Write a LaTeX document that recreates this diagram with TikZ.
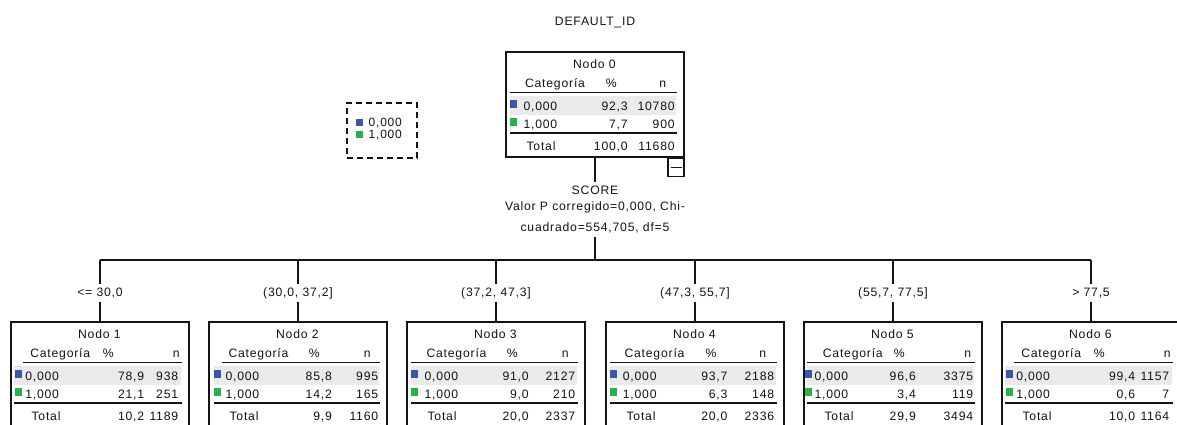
\documentclass[tikz,border=0pt]{standalone}
\usepackage{fontspec}
\setmainfont{Liberation Sans}[LetterSpace=6.5]
\definecolor{catblue}{RGB}{62,86,170}
\definecolor{catgreen}{RGB}{40,178,74}
\definecolor{rowgrey}{RGB}{234,234,234}
\definecolor{ink}{RGB}{20,20,20}
% layout: square, label, Categoria, %-head centre, n-head centre, %-values right, n-values right, upper rule start, shade start
\newcommand\lay[9]{\def\Lsq{#1}\def\Llab{#2}\def\Lcat{#3}\def\Lpc{#4}\def\Lnc{#5}\def\Lpv{#6}\def\Lnv{#7}\def\Lul{#8}\def\Lsh{#9}}
% table node: id, centre x, top y, p0, n0, p1, n1, total p, total n
\newcommand\tbl[9]{%
  \node[tbox] (n#1) at (#2,#3+52.5) {};
  \begin{scope}[shift={(n#1.north west)}]
    \fill[rowgrey] (\Lsh,45) rectangle (171,64);
    \draw[rule] (\Lul,41) -- (172,41);
    \draw[rule] (\Lsh,81.5) -- (172,81.5);
    \fill[catblue] (\Lsq,49) rectangle ++(7,8);
    \fill[catgreen] (\Lsq,67) rectangle ++(7,8);
    \node[txt,anchor=base] (n#1-t) at (89,17) {Nodo #1};
    \node[txt,anchor=base west] (n#1-hc) at (\Lcat,36.5) {Categoría};
    \node[txt,anchor=base] (n#1-hp) at (\Lpc,36.5) {\%};
    \node[txt,anchor=base] (n#1-hn) at (\Lnc,36.5) {n};
    \node[txt,anchor=base west] (n#1-c0) at (\Llab,59.5) {0,000};
    \node[txt,anchor=base east] (n#1-p0) at (\Lpv,59.5) {#4};
    \node[txt,anchor=base east] (n#1-v0) at (\Lnv,59.5) {#5};
    \node[txt,anchor=base west] (n#1-c1) at (\Llab,77.5) {1,000};
    \node[txt,anchor=base east] (n#1-p1) at (\Lpv,77.5) {#6};
    \node[txt,anchor=base east] (n#1-v1) at (\Lnv,77.5) {#7};
    \node[txt,anchor=base west] (n#1-ct) at (21,99) {Total};
    \node[txt,anchor=base east] (n#1-pt) at (\Lpv,99) {#8};
    \node[txt,anchor=base east] (n#1-vt) at (\Lnv,99) {#9};
  \end{scope}}
\begin{document}
\begin{tikzpicture}[x=1pt,y=-1pt,
  txt/.style={inner sep=0pt,text=ink,font=\fontsize{12.2}{15}\selectfont},
  tbox/.style={draw=ink,line width=1.3pt,minimum width=178pt,minimum height=105pt,inner sep=0pt},
  rule/.style={draw=ink,line width=1.5pt},
  conn/.style={draw=ink,line width=1.2pt},
  lbl/.style={txt,text height=9.3pt,text depth=2.7pt,inner ysep=3pt,inner xsep=1pt},
  minusbox/.style={draw=ink,line width=1.2pt,minimum width=16pt,minimum height=18pt,inner sep=0pt},
  legbox/.style={draw=ink,line width=1.2pt,dash pattern=on 6pt off 4pt,minimum width=70pt,minimum height=55pt,inner sep=0pt}]
\useasboundingbox (0,0) rectangle (1177,424);
\clip (0,0) rectangle (1177,424);
\fill[white] (0,0) rectangle (1177,424);

\node[txt,anchor=base] (title) at (595,25) {DEFAULT\_ID};

% legend
\node[legbox] (legend) at (382,130.5) {};
\fill[catblue] (356,118.5) rectangle ++(7,7);
\fill[catgreen] (356,130.5) rectangle ++(7,7);
\node[txt,anchor=base west,font=\fontsize{12}{13}\selectfont] (leg0) at (368.5,126.5) {0,000};
\node[txt,anchor=base west,font=\fontsize{12}{13}\selectfont] (leg1) at (368.5,138.5) {1,000};

% root
\lay{5}{18}{19.5}{106}{157.5}{122.5}{169.5}{5}{5}
\tbl{0}{595}{52}{92,3}{10780}{7,7}{900}{100,0}{11680}
\node[minusbox,anchor=north east] (btn) at (n0.south east) {};
\draw[conn,line width=1.3pt] ([xshift=-5.5pt]btn.center) -- ([xshift=5.5pt]btn.center);

% split text
\node[lbl,anchor=base] (score) at (595,194) {SCORE};
\node[txt,anchor=base] (pval) at (595,210) {Valor P corregido=0,000, Chi-};
\node[lbl,anchor=base] (chi) at (595,231) {cuadrado=554,705, df=5};
\coordinate (bar) at (595,260);
\draw[conn] (n0.south) -- (score.north);
\draw[conn] (chi.south) -- (bar);

% branch labels
\node[lbl,anchor=base] (l1) at (100,296) {<= 30,0};
\node[lbl,anchor=base] (l2) at (298,296) {(30,0, 37,2]};
\node[lbl,anchor=base] (l3) at (496,296) {(37,2, 47,3]};
\node[lbl,anchor=base] (l4) at (695,296) {(47,3, 55,7]};
\node[lbl,anchor=base] (l5) at (893,296) {(55,7, 77,5]};
\node[lbl,anchor=base] (l6) at (1091,296) {> 77,5};

% children
\lay{5}{14.7}{19.7}{98}{166}{134}{168}{13}{4}
\tbl{1}{100}{322}{78,9}{938}{21,1}{251}{10,2}{1189}
\lay{6}{17}{20}{106}{159}{123.7}{170}{14}{6}
\tbl{2}{298}{322}{85,8}{995}{14,2}{165}{9,9}{1160}
\lay{5}{18}{20}{106}{159}{122.5}{169}{5}{5}
\tbl{3}{496}{322}{91,0}{2127}{9,0}{210}{20,0}{2337}
\lay{4.7}{17.3}{19}{105.7}{157.3}{122.3}{169}{4.7}{4.7}
\tbl{4}{695}{322}{93,7}{2188}{6,3}{148}{20,0}{2336}
\lay{1.5}{11}{19.3}{96}{164.3}{112.7}{170}{4}{4}
\tbl{5}{893}{322}{96,6}{3375}{3,4}{119}{29,9}{3494}
\lay{5}{14.7}{19.7}{98}{166}{134}{168}{13}{4}
\tbl{6}{1091}{322}{99,4}{1157}{0,6}{7}{10,0}{1164}

% connectors
\draw[conn] (bar -| l1.north) -- (bar -| l6.north);
\foreach \i in {1,...,6}{
  \draw[conn] (bar -| l\i.north) -- (l\i.north);
  \draw[conn] (l\i.south) -- (n\i.north);
}
\end{tikzpicture}
\end{document}
